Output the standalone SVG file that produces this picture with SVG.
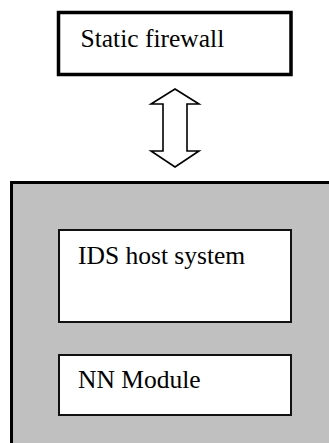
<svg xmlns="http://www.w3.org/2000/svg" width="329" height="443" viewBox="0 0 329 443">
<style>
text{font-family:"Liberation Serif","Times New Roman",serif;font-size:25.5px;fill:#000}
.inner{fill:#fff;stroke:#111;stroke-width:2}
</style>
<rect width="329" height="443" fill="#fff"/>
<g id="firewall">
<rect x="58.5" y="12.5" width="232.5" height="62" fill="#fff" stroke="#000" stroke-width="3.5"/>
<text x="80.5" y="47">Static firewall</text>
</g>
<g id="connectors">
<polygon points="175,89 199,104 187,104 187,151 199,151 175,167 151,151 163,151 163,104 151,104" fill="#fff" stroke="#000" stroke-width="1.6" stroke-linejoin="miter"/>
</g>
<g id="host">
<rect x="11.5" y="182.5" width="330" height="300" fill="#c0c0c0" stroke="#000" stroke-width="3"/>
</g>
<g id="ids">
<rect class="inner" x="59" y="230" width="232" height="92"/>
<text x="78" y="264">IDS host system</text>
</g>
<g id="nn">
<rect class="inner" x="59" y="355" width="232" height="60"/>
<text x="78" y="388">NN Module</text>
</g>
</svg>
